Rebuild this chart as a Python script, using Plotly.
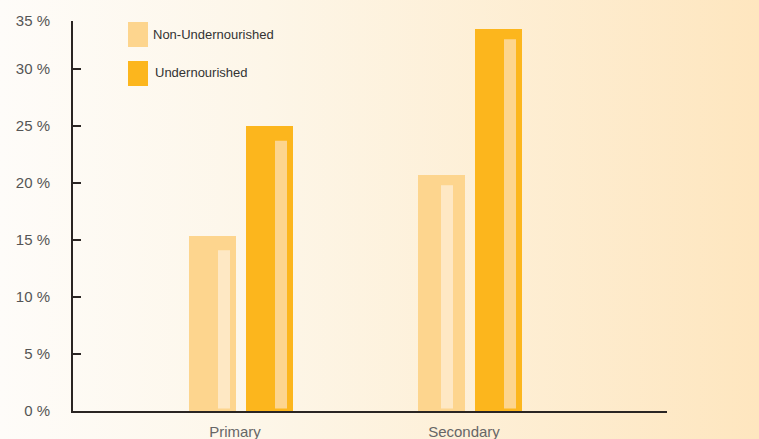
import base64
import plotly.graph_objects as go

# ---- data ----
categories = ["Primary", "Secondary"]
series_names = ["Non-Undernourished", "Undernourished"]
non_under = [15.35, 20.7]
under = [25.0, 33.5]
# lighter inner highlight stripes drawn inside each bar
non_under_stripe = [14.1, 19.8]
under_stripe = [23.7, 32.6]
ytick_labels = ["0 %", "5 %", "10 %", "15 %", "20 %", "25 %", "30 %", "35 %"]
ytick_values = [0, 5, 10, 15, 20, 25, 30, 34.2]

# ---- style ----
W, H = 759, 439
ML, MR, MT, MB = 73, 92, 21, 28
PW = W - ML - MR
PH = H - MT - MB
UNIT = 229.0  # pixels per category step
px = lambda p: p / UNIT

C_NON = "#fdd58e"
C_UND = "#fcb61d"
C_NON_STRIPE = "#fee8c4"
C_UND_STRIPE = "#fdd58e"

xpos = list(range(len(categories)))
bar_w = px(47)
stripe_w = px(12)
stripe_base = 0.22

fig = go.Figure()
fig.add_trace(go.Bar(x=xpos, y=non_under, width=bar_w, offset=px(-52),
                     marker=dict(color=C_NON, line=dict(width=0)), name=series_names[0]))
fig.add_trace(go.Bar(x=xpos, y=under, width=bar_w, offset=px(5),
                     marker=dict(color=C_UND, line=dict(width=0)), name=series_names[1]))
fig.add_trace(go.Bar(x=xpos, y=[v - stripe_base for v in non_under_stripe], base=stripe_base,
                     width=stripe_w, offset=[px(-52 + 29), px(-52 + 23)],
                     marker=dict(color=C_NON_STRIPE, line=dict(width=0)), hoverinfo="skip"))
fig.add_trace(go.Bar(x=xpos, y=[v - stripe_base for v in under_stripe], base=stripe_base,
                     width=stripe_w, offset=[px(5 + 29), px(5 + 29)],
                     marker=dict(color=C_UND_STRIPE, line=dict(width=0)), hoverinfo="skip"))

# background gradient
svg = ('<svg xmlns="http://www.w3.org/2000/svg" width="759" height="439" preserveAspectRatio="none">'
       '<defs><linearGradient id="g" x1="0" y1="0" x2="1" y2="0">'
       '<stop offset="0" stop-color="#fefcf9"/><stop offset="0.35" stop-color="#fdf6e8"/>'
       '<stop offset="1" stop-color="#fee6bf"/></linearGradient></defs>'
       '<rect width="759" height="439" fill="url(#g)"/></svg>')
src = "data:image/svg+xml;base64," + base64.b64encode(svg.encode()).decode()

xl = lambda p: (p - ML) / PW
yl = lambda p: (H - MB - p) / PH

shapes = []
annotations = []
legend_items = [(series_names[0], C_NON, 22, 47, 151, 34),
                (series_names[1], C_UND, 61, 86, 153, 72)]
for name, col, y0, y1, tx, ty in legend_items:
    shapes.append(dict(type="rect", xref="paper", yref="paper",
                       x0=xl(128), x1=xl(148), y0=yl(y1), y1=yl(y0),
                       fillcolor=col, line=dict(width=0)))
    annotations.append(dict(text=name, xref="paper", yref="paper", x=xl(tx), y=yl(ty),
                            xanchor="left", yanchor="middle", showarrow=False,
                            font=dict(size=13, color="#333333")))

fig.update_layout(
    width=W, height=H,
    margin=dict(l=ML, r=MR, t=MT, b=MB, pad=0, autoexpand=False),
    paper_bgcolor="#fdf6e8", plot_bgcolor="rgba(0,0,0,0)",
    barmode="overlay", showlegend=False,
    font=dict(family="Liberation Sans, Arial, sans-serif"),
    images=[dict(source=src, xref="paper", yref="paper", x=-ML / PW, y=1 + MT / PH,
                 sizex=W / PW, sizey=H / PH, sizing="stretch", layer="below",
                 xanchor="left", yanchor="top")],
    shapes=shapes, annotations=annotations,
    xaxis=dict(range=[-(241 - ML) / UNIT, 1 + (ML + PW - 470) / UNIT],
               tickvals=[v - px(6) for v in xpos], ticktext=categories,
               showgrid=False, zeroline=False, showline=True, linecolor="#2a2523",
               linewidth=2, ticks="", tickfont=dict(size=15, color="#666666"),
               ticklabelstandoff=6, automargin=False),
    yaxis=dict(range=[0, 34.2], tickvals=ytick_values, ticktext=ytick_labels,
               showgrid=False, zeroline=False, showline=True, linecolor="#2a2523",
               linewidth=2, ticks="inside", ticklen=8, tickwidth=2, tickcolor="#2a2523",
               tickfont=dict(size=15, color="#555555"), ticklabelstandoff=18,
               automargin=False),
)

fig.write_html("out.html")
